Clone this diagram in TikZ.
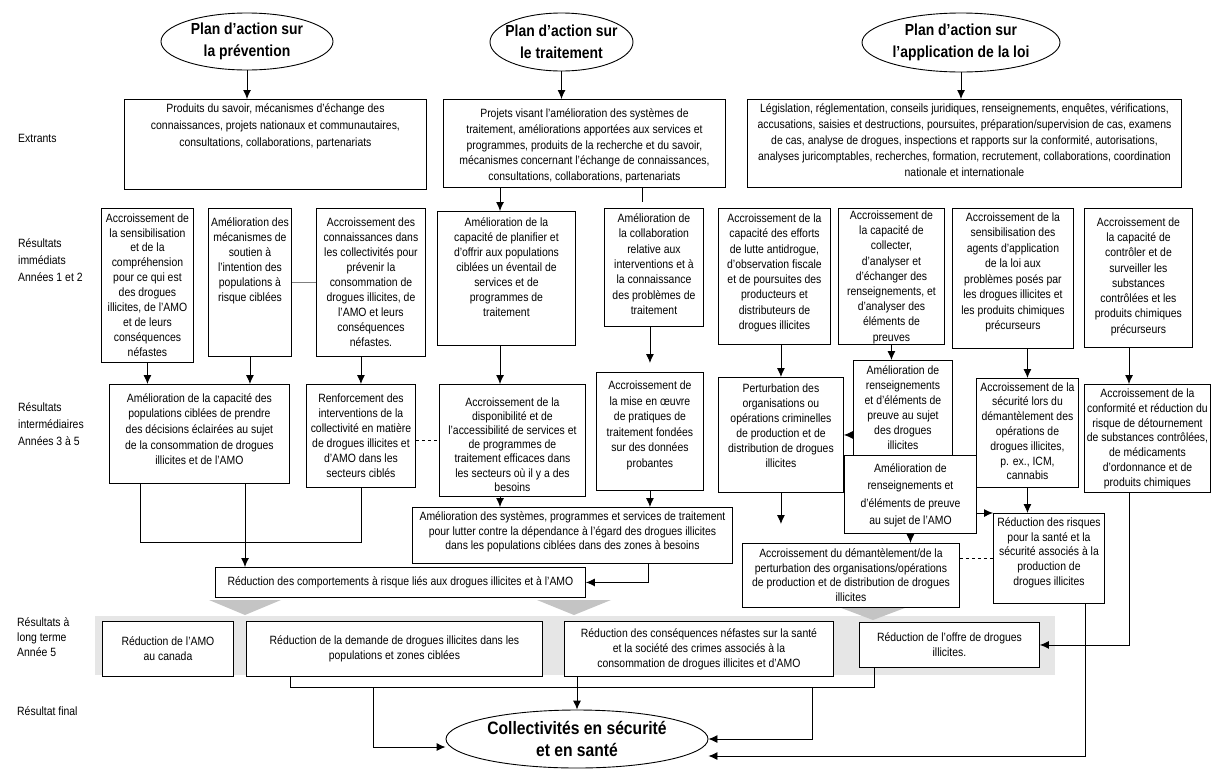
\documentclass[tikz,border=0pt]{standalone}
\usepackage{fontspec}
\setmainfont{Liberation Sans}[FakeStretch=0.87]
\usetikzlibrary{arrows.meta,shapes.geometric}

\definecolor{bandgray}{HTML}{E6E6E6}
\definecolor{chevgray}{HTML}{C4C4C4}
\definecolor{linkgray}{HTML}{7F7F7F}

\tikzset{
  box/.style   = {shape=rectangle, draw, fill=white, line width=0.9pt,
                  anchor=north west, inner sep=0pt},
  cbox/.style  = {box, align=center, font=\fontsize{12}{15}\selectfont},
  txt/.style   = {anchor=north, align=center, inner sep=0pt, yshift=-6.5pt,
                  font=\fontsize{12}{15}\selectfont},
  plan/.style  = {shape=ellipse, draw, fill=white, line width=0.9pt, inner sep=-6pt,
                  align=center, font=\fontsize{16}{21.5}\selectfont\bfseries},
  final/.style = {plan, font=\fontsize{18}{22}\selectfont\bfseries},
  lbl/.style   = {anchor=west, align=left, inner sep=0pt,
                  font=\fontsize{12}{16.7}\selectfont},
  arr/.style   = {draw, line width=0.9pt, -{Latex[length=9pt,width=8pt]}},
  link/.style  = {draw, line width=0.9pt},
  chev/.style  = {fill=chevgray}
}

\begin{document}
\begin{tikzpicture}[x=1pt, y=-1pt]
\useasboundingbox (0,0) rectangle (1220,777);

% row labels
\node[lbl] (lext) at (18,138) {Extrants};
\node[lbl] (limm) at (18,260) {Résultats\\immédiats\\Années 1 et 2};
\node[lbl] (lint) at (18,424) {Résultats\\intermédiaires\\Années 3 à 5};
\node[lbl, font=\fontsize{12}{15.3}\selectfont] (llt) at (17,637) {Résultats à\\long terme\\Année 5};
\node[lbl] (lfin) at (17,711) {Résultat final};

% long term band
\fill[bandgray] (95,616) rectangle (1055,675);
\fill[chev] (209,600) -- (281,600) -- (245,615) -- cycle;
\fill[chev] (537,600) -- (611,600) -- (574,615) -- cycle;
\fill[chev] (836,606) -- (910,606) -- (873,620) -- cycle;

% action plans
\node[plan, minimum width=172pt, minimum height=57pt] (e1) at (247,41.5) {Plan d’action sur\\la prévention};
\node[plan, minimum width=143pt, minimum height=58pt] (e2) at (561.5,42) {Plan d’action sur\\le traitement};
\node[plan, minimum width=198pt, minimum height=59pt] (e3) at (961,42.5) {Plan d’action sur\\l’application de la loi};

% outputs
\node[box, minimum width=302pt, minimum height=90pt] (out1) at (124,99) {};
\node[txt, yshift=2pt, font=\fontsize{12}{16.8}\selectfont] (out1t) at (out1.north)
  {Produits du savoir, mécanismes d’échange des\\connaissances, projets nationaux et communautaires,\\consultations, collaborations, partenariats};
\node[box, minimum width=282pt, minimum height=88pt] (out2) at (443,99) {};
\node[txt, yshift=-3pt, font=\fontsize{12}{15.8}\selectfont] (out2t) at (out2.north)
  {Projets visant l'amélioration des systèmes de\\traitement, améliorations apportées aux services et\\programmes, produits de la recherche et du savoir,\\mécanismes concernant l'échange de connaissances,\\consultations, collaborations, partenariats};
\node[box, minimum width=434pt, minimum height=88pt] (out3) at (747,99) {};
\node[txt, yshift=2pt, font=\fontsize{12}{16}\selectfont] (out3t) at (out3.north)
  {Législation, réglementation, conseils juridiques, renseignements, enquêtes, vérifications,\\accusations, saisies et destructions, poursuites, préparation/supervision de cas, examens\\de cas, analyse de drogues, inspections et rapports sur la conformité, autorisations,\\analyses juricomptables, recherches, formation, recrutement, collaborations, coordination\\nationale et internationale};

% immediate outcomes
\node[box, minimum width=92pt, minimum height=154pt] (imm1) at (101,208) {};
\node[txt, yshift=1.3pt, font=\fontsize{12}{14.9}\selectfont] (imm1t) at (imm1.north)
  {Accroissement de\\la sensibilisation\\et de la\\compréhension\\pour ce qui est\\des drogues\\illicites, de l'AMO\\et de leurs\\conséquences\\néfastes};
\node[box, minimum width=83pt, minimum height=148pt] (imm2) at (208,208) {};
\node[txt, yshift=-3pt] (imm2t) at (imm2.north)
  {Amélioration des\\mécanismes de\\soutien à\\l'intention des\\populations à\\risque ciblées};
\node[box, minimum width=109pt, minimum height=148pt] (imm3) at (316,208) {};
\node[txt, yshift=-3pt] (imm3t) at (imm3.north)
  {Accroissement des\\connaissances dans\\les collectivités pour\\prévenir la\\consommation de\\drogues illicites, de\\l'AMO et leurs\\conséquences\\néfastes.};
\node[box, minimum width=138pt, minimum height=134pt] (imm4) at (437,211) {};
\node[txt] (imm4t) at (imm4.north)
  {Amélioration de la\\capacité de planifier et\\d’offrir aux populations\\ciblées un éventail de\\services et de\\programmes de\\traitement};
\node[box, minimum width=99pt, minimum height=118pt] (imm5) at (604,208) {};
\node[txt, yshift=1pt, font=\fontsize{12}{15.3}\selectfont] (imm5t) at (imm5.north)
  {Amélioration de\\la collaboration\\relative aux\\interventions et à\\la connaissance\\des problèmes de\\traitement};
\node[box, minimum width=112pt, minimum height=136pt] (imm6) at (718,208) {};
\node[txt, yshift=1pt, font=\fontsize{12}{15.3}\selectfont] (imm6t) at (imm6.north)
  {Accroissement de la\\capacité des efforts\\de lutte antidrogue,\\d’observation fiscale\\et de poursuites des\\producteurs et\\distributeurs de\\drogues illicites};
\node[box, minimum width=106pt, minimum height=136pt] (imm7) at (838,208) {};
\node[txt, yshift=4pt, font=\fontsize{12}{15.2}\selectfont] (imm7t) at (imm7.north)
  {Accroissement de\\la capacité de\\collecter,\\d’analyser et\\d’échanger des\\renseignements, et\\d’analyser des\\éléments de\\preuves};
\node[box, minimum width=121pt, minimum height=140pt] (imm8) at (952,208) {};
\node[txt, yshift=2.3pt, font=\fontsize{12}{15.5}\selectfont] (imm8t) at (imm8.north)
  {Accroissement de la\\sensibilisation des\\agents d’application\\de la loi aux\\problèmes posés par\\les drogues illicites et\\les produits chimiques\\précurseurs};
\node[box, minimum width=108pt, minimum height=139pt] (imm9) at (1084,208) {};
\node[txt, yshift=-2.7pt, font=\fontsize{12}{15.3}\selectfont] (imm9t) at (imm9.north)
  {Accroissement de\\la capacité de\\contrôler et de\\surveiller les\\substances\\contrôlées et les\\produits chimiques\\précurseurs};

% intermediate outcomes
\node[box, minimum width=180pt, minimum height=99pt] (int1) at (109,384) {};
\node[txt, yshift=-2.7pt, font=\fontsize{12}{15.6}\selectfont] (int1t) at (int1.north)
  {Amélioration de la capacité des\\populations ciblées de prendre\\des décisions éclairées au sujet\\de la consommation de drogues\\illicites et de l'AMO};
\node[box, minimum width=109pt, minimum height=103pt] (int2) at (306,384) {};
\node[txt, yshift=-2.7pt] (int2t) at (int2.north)
  {Renforcement des\\interventions de la\\collectivité en matière\\de drogues illicites et\\d’AMO dans les\\secteurs ciblés};
\node[box, minimum width=146pt, minimum height=112pt] (int3) at (439,384) {};
\node[txt, yshift=-6.7pt, font=\fontsize{12}{14.2}\selectfont] (int3t) at (int3.north)
  {Accroissement de la\\disponibilité et de\\l'accessibilité de services et\\de programmes de\\traitement efficaces dans\\les secteurs où il y a des\\besoins};
\node[box, minimum width=107pt, minimum height=118pt] (int4) at (596,372) {};
\node[txt, yshift=-2pt, font=\fontsize{12}{15.6}\selectfont] (int4t) at (int4.north)
  {Accroissement de\\la mise en œuvre\\de pratiques de\\traitement fondées\\sur des données\\probantes};
\node[box, minimum width=320pt, minimum height=56pt] (int5) at (412,507) {};
\node[txt, yshift=2pt, font=\fontsize{12}{14.5}\selectfont] (int5t) at (int5.north)
  {Amélioration des systèmes, programmes et services de traitement\\pour lutter contre la dépendance à l'égard des drogues illicites\\dans les populations ciblées dans des zones à besoins};
\node[cbox, minimum width=370pt, minimum height=30pt] (int6) at (215,567)
  {Réduction des comportements à risque liés aux drogues illicites et à l'AMO};
\node[box, minimum width=125pt, minimum height=115pt] (int7) at (718,377) {};
\node[txt] (int7t) at (int7.north)
  {Perturbation des\\organisations ou\\opérations criminelles\\de production et de\\distribution de drogues\\illicites};
\node[box, minimum width=99pt, minimum height=98pt] (int8) at (853,360) {};
\node[txt, yshift=1pt, font=\fontsize{12}{14.9}\selectfont] (int8t) at (int8.north)
  {Amélioration de\\renseignements\\et d’éléments de\\preuve au sujet\\des drogues\\illicites};
\node[box, minimum width=132pt, minimum height=78pt] (int9) at (844,455) {};
\node[txt, yshift=-2pt, font=\fontsize{12}{17.3}\selectfont] (int9t) at (int9.north)
  {Amélioration de\\renseignements et\\d’éléments de preuve\\au sujet de l'AMO};
\node[box, minimum width=217pt, minimum height=64pt] (int10) at (742,543) {};
\node[txt, yshift=1pt, font=\fontsize{12}{14.5}\selectfont] (int10t) at (int10.north)
  {Accroissement du démantèlement/de la\\perturbation des organisations/opérations\\de production et de distribution de drogues\\illicites};
\node[box, minimum width=102pt, minimum height=109pt] (int11) at (976,378) {};
\node[txt, yshift=2.3pt, font=\fontsize{12}{14.8}\selectfont] (int11t) at (int11.north)
  {Accroissement de la\\sécurité lors du\\démantèlement des\\opérations de\\drogues illicites,\\p. ex., ICM,\\cannabis};
\node[box, minimum width=111pt, minimum height=90pt] (int12) at (993,513) {};
\node[txt, yshift=2.3pt, font=\fontsize{12}{14.8}\selectfont] (int12t) at (int12.north)
  {Réduction des risques\\pour la santé et la\\sécurité associés à la\\production de\\drogues illicites};
\node[box, minimum width=126pt, minimum height=108pt] (int13) at (1084,384) {};
\node[txt, yshift=2pt, font=\fontsize{12}{14.8}\selectfont] (int13t) at (int13.north)
  {Accroissement de la\\conformité et réduction du\\risque de détournement\\de substances contrôlées,\\de médicaments\\d’ordonnance et de\\produits chimiques};

% long term outcomes
\node[cbox, minimum width=131pt, minimum height=55pt] (lt1) at (102,621)
  {Réduction de l'AMO\\au canada};
\node[cbox, minimum width=296pt, minimum height=55pt] (lt2) at (246,621)
  {Réduction de la demande de drogues illicites dans les\\populations et zones ciblées};
\node[cbox, minimum width=269pt, minimum height=55pt] (lt3) at (564,621)
  {Réduction des conséquences néfastes sur la santé\\et la société des crimes associés à la\\consommation de drogues illicites et d’AMO};
\node[cbox, minimum width=180pt, minimum height=45pt] (lt4) at (859,622)
  {Réduction de l'offre de drogues\\illicites.};

% final outcome
\node[final, minimum width=262pt, minimum height=58pt] (fin) at (577,739) {Collectivités en sécurité\\et en santé};

% bend points
\coordinate (xa) at (500,0);
\coordinate (xb) at (642,0);
\coordinate (xc) at (648,0);
\coordinate (xd) at (1129,0);
\coordinate (xe) at (1085,0);
\coordinate (xf) at (245,0);
\coordinate (xg) at (140,542);
\coordinate (busl) at (290,687);
\coordinate (busr) at (874,687);
\coordinate (busa) at (373,687);
\coordinate (busb) at (812,687);

% plans to outputs
\draw[arr] (e1.south) -- (e1.south |- out1.north);
\draw[arr] (e2.south) -- (e2.south |- out2.north);
\draw[arr] (e3.south) -- (e3.south |- out3.north);
\draw[arr] (out2.south -| xa) -- (imm4.north -| xa);
\draw[link, shorten >=6pt] (out2.south -| xb) -- (imm5.north -| xb);

% prevention
\draw[link, linkgray] (imm2.east) -- (imm3.west);
\draw[arr] (imm1.south) -- (imm1.south |- int1.north);
\draw[arr] (imm2.south) -- (imm2.south |- int1.north);
\draw[arr] (imm3.south -| int2.north) -- (int2.north);
\draw[link] (int1.south -| xg) -- (xg) -| (int2.south);
\draw[arr] (int1.south -| xf) -- (int6.north -| xf);
\draw[link, dashed] (int2.east |- int3.west) -- (int3.west);

% treatment
\draw[arr] (imm4.south -| xa) -- (int3.north -| xa);
\draw[arr, shorten >=9pt] (imm5.south -| int4.north) -- (int4.north);
\draw[arr] (int3.south -| xa) -- (int5.north -| xa);
\draw[arr] (int4.south) -- (int4.south |- int5.north);
\draw[arr] (int5.south -| xc) |- (int6.east);

% law enforcement
\draw[arr] (imm6.south -| int7.north) -- (int7.north);
\draw[arr] (imm7.south) -- (imm7.south |- int8.north);
\draw[arr] (imm8.south -| int11.north) -- (int11.north);
\draw[arr] (imm9.south -| xd) -- (int13.north -| xd);
\draw[arr, shorten >=19pt] (int7.south) -- (int7.south |- int10.north);
\draw[arr] (int8.west |- int7.east) -- (int7.east);
\draw[arr] (int9.east |- int12.north) -- (int12.north west);
\draw[arr] (int9.south) -- (int9.south |- int10.north);
\draw[arr] (int11.south) -- (int11.south |- int12.north);
\draw[link, dashed] (int10.east |- int12.west) -- (int12.west);
\draw[arr] (int13.south -| xd) |- (lt4.east);
\draw[arr] (int12.south -| xe) |- ([yshift=-17pt]fin.east);

% long term to final
\draw[link] (lt2.south -| busl) -- (busl) -- (busr) -- (lt4.south -| busr);
\draw[arr] (busa) |- ([yshift=-8pt]fin.west);
\draw[arr] (lt3.south -| fin.north) -- (fin.north);
\draw[arr] (busb) |- (fin.east);
\end{tikzpicture}
\end{document}
